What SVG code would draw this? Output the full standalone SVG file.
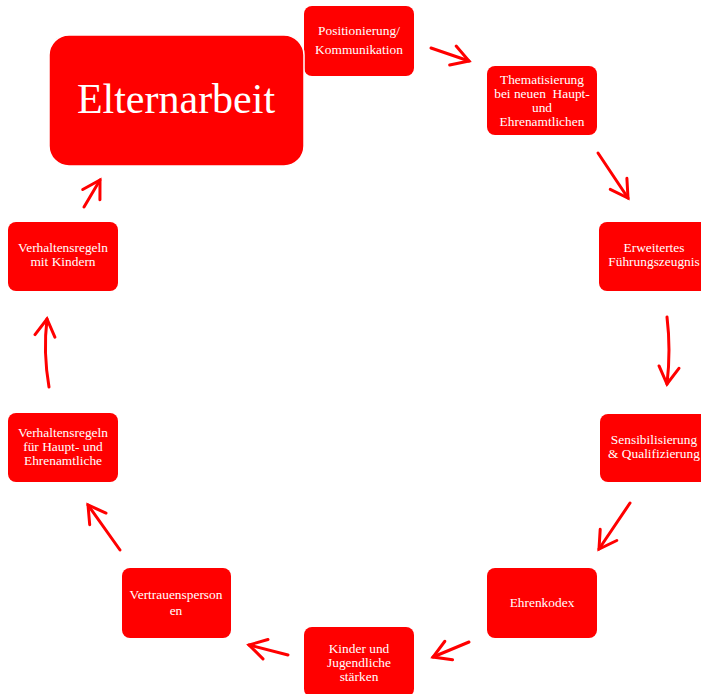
<svg xmlns="http://www.w3.org/2000/svg" width="701" height="694" viewBox="0 0 701 694">
<defs>
<marker id="ah" viewBox="-20 -12 24 24" markerWidth="24" markerHeight="24" markerUnits="userSpaceOnUse" refX="0" refY="0" orient="auto">
<path d="M-17,-10 L0,0 L-17,10" fill="none" stroke="#FF0000" stroke-width="3" stroke-linecap="round" stroke-linejoin="miter"/>
</marker>
</defs>
<style>
.box{fill:#FF0000;}
.t{font-family:"Liberation Serif","Times New Roman",serif;font-size:13.4px;fill:#FFFFFF;text-anchor:middle;}
.big{font-family:"Liberation Serif","Times New Roman",serif;font-size:42px;fill:#FFFFFF;text-anchor:middle;}
.c{fill:none;stroke:#FF0000;stroke-width:3;stroke-linecap:round;marker-end:url(#ah);}
</style>
<g id="connectors">
<path class="c" d="M431,48 L469,61"/>
<path class="c" d="M598,153 L628,198"/>
<path class="c" d="M667,317 Q671,350 667,384"/>
<path class="c" d="M630,503 L599,549"/>
<path class="c" d="M469,642 L433,657"/>
<path class="c" d="M288,655 L249,645"/>
<path class="c" d="M120,550 L88,505"/>
<path class="c" d="M49,387 Q43,352 47,319"/>
<path class="c" d="M84,207 L100,180"/>
</g>
<g id="n-pos">
<rect class="box" x="304" y="6" width="110" height="70" rx="8"/>
<text class="t" x="359" y="35">Positionierung/</text>
<text class="t" x="359" y="54">Kommunikation</text>
</g>
<g id="n-eltern">
<rect class="box" x="49" y="35" width="255" height="131" rx="20" stroke="#FFFFFF" stroke-width="1.5"/>
<text class="big" x="176" y="113">Elternarbeit</text>
</g>
<g id="n-them">
<rect class="box" x="487" y="66" width="110" height="69" rx="8"/>
<text class="t" x="542" y="84">Thematisierung</text>
<text class="t" x="542" y="98" xml:space="preserve">bei neuen  Haupt-</text>
<text class="t" x="542" y="112">und</text>
<text class="t" x="542" y="126">Ehrenamtlichen</text>
</g>
<g id="n-fz">
<rect class="box" x="599" y="222" width="110" height="69" rx="8"/>
<text class="t" x="654" y="252">Erweitertes</text>
<text class="t" x="654" y="266">Führungszeugnis</text>
</g>
<g id="n-sens">
<rect class="box" x="600" y="414" width="110" height="68" rx="8"/>
<text class="t" x="654" y="444">Sensibilisierung</text>
<text class="t" x="654" y="458">&amp; Qualifizierung</text>
</g>
<g id="n-kodex">
<rect class="box" x="487" y="568" width="110" height="70" rx="8"/>
<text class="t" x="542" y="607">Ehrenkodex</text>
</g>
<g id="n-kinder">
<rect class="box" x="304" y="627" width="110" height="70" rx="8"/>
<text class="t" x="359" y="653">Kinder und</text>
<text class="t" x="359" y="667">Jugendliche</text>
<text class="t" x="359" y="681">stärken</text>
</g>
<g id="n-vertrauen">
<rect class="box" x="122" y="568" width="109" height="70" rx="8"/>
<text class="t" x="176" y="599">Vertrauensperson</text>
<text class="t" x="176" y="615">en</text>
</g>
<g id="n-vhaupt">
<rect class="box" x="8" y="413" width="110" height="69" rx="8"/>
<text class="t" x="63" y="437">Verhaltensregeln</text>
<text class="t" x="63" y="451">für Haupt- und</text>
<text class="t" x="63" y="465">Ehrenamtliche</text>
</g>
<g id="n-vkinder">
<rect class="box" x="8" y="222" width="110" height="69" rx="8"/>
<text class="t" x="63" y="252">Verhaltensregeln</text>
<text class="t" x="63" y="266">mit Kindern</text>
</g>
</svg>
